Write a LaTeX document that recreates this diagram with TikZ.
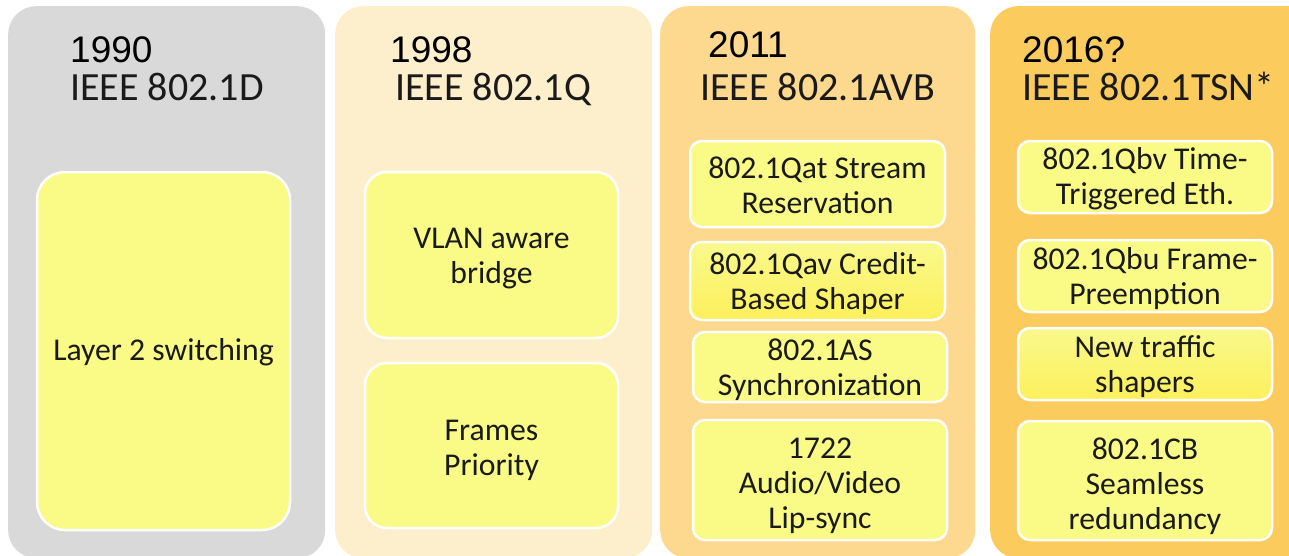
\documentclass[tikz,border=0pt]{standalone}
\usepackage{fontspec}
\setmainfont{Carlito}
\newfontfamily\yearfont{Liberation Sans}
\definecolor{pgray}{HTML}{D9D9D9}
\definecolor{pcream}{HTML}{FEEFCC}
\definecolor{plight}{HTML}{FCD98E}
\definecolor{porange}{HTML}{FBCB5D}
\definecolor{itemyellow}{HTML}{FAFA87}
\definecolor{itemtop}{HTML}{F9F98C}
\definecolor{itembot}{HTML}{FDF05C}
\definecolor{txt}{HTML}{1A1A1A}
\begin{document}
\begin{tikzpicture}[x=1pt,y=-1pt,
  panel/.style={rectangle, rounded corners=28pt, inner sep=0pt, anchor=north west},
  item/.style={rectangle, draw=white, line width=2.5pt, fill=itemyellow, inner sep=0pt, rounded corners=12pt},
  bigitem/.style={item, rounded corners=28pt},
  shadeditem/.style={item, top color=itemtop, bottom color=itembot},
  itemtext/.style={inner sep=0pt, align=center, text=txt, font=\fontsize{31.7}{35}\selectfont},
  year/.style={anchor=base west, inner sep=0pt, font=\yearfont\fontsize{37}{37}\selectfont, text=black},
  title/.style={anchor=base west, inner sep=0pt, font=\fontsize{40}{40}\selectfont, text=txt}]
\useasboundingbox (0,0) rectangle (1289,555);
\clip (0,0) rectangle (1289,555);
\fill[white] (0,0) rectangle (1289,555);
% panels
\node[panel, fill=pgray, minimum width=317pt, minimum height=552pt] (p1) at (8,6) {};
\node[panel, fill=pcream, minimum width=317pt, minimum height=552pt] (p2) at (335,6) {};
\node[panel, fill=plight, minimum width=315pt, minimum height=552pt] (p3) at (660,6) {};
\node[panel, fill=porange, minimum width=330pt, minimum height=552pt] (p4) at (990,6) {};
% titles
\node[year] (y1) at (70,62) {1990};
\node[title] (t1) at (70,100) {IEEE 802.1D};
\node[year] (y2) at (390,62) {1998};
\node[title] (t2) at (395,100) {IEEE 802.1Q};
\node[year] (y3) at (708,57) {2011};
\node[title] (t3) at (700,100) {IEEE 802.1AVB};
\node[year] (y4) at (1022,62) {2016?};
\node[title] (t4) at (1022,100) {IEEE 802.1TSN*};
% panel 1
\node[bigitem, minimum width=253pt, minimum height=358pt] (a1) at (163.5,351) {};
\node[itemtext] (a1t) at ([yshift=-1.5pt]a1.center) {Layer 2 switching};
% panel 2
\node[bigitem, rounded corners=22pt, minimum width=253pt, minimum height=166pt] (b1) at (491.5,255) {};
\node[itemtext] (b1t) at ([yshift=-3.5pt]b1.center) {VLAN aware\\bridge};
\node[bigitem, rounded corners=22pt, minimum width=253pt, minimum height=165pt] (b2) at (491.5,445.5) {};
\node[itemtext] (b2t) at ([yshift=-4.5pt]b2.center) {Frames\\Priority};
% panel 3
\node[item, minimum width=255pt, minimum height=86pt] (c1) at (817.5,184) {};
\node[itemtext] (c1t) at ([yshift=-1pt]c1.center) {802.1Qat Stream\\Reservation};
\node[shadeditem, minimum width=255pt, minimum height=78pt] (c2) at (817.5,281) {};
\node[itemtext] (c2t) at ([yshift=-3pt]c2.center) {802.1Qav Credit-\\Based Shaper};
\node[item, minimum width=254pt, minimum height=70pt] (c3) at (820,367) {};
\node[itemtext] (c3t) at ([yshift=-3pt]c3.center) {802.1AS\\Synchronization};
\node[item, minimum width=254pt, minimum height=120pt] (c4) at (820,480) {};
\node[itemtext] (c4t) at ([yshift=-5.5pt]c4.center) {1722\\Audio/Video\\Lip-sync};
% panel 4
\node[item, minimum width=254pt, minimum height=72pt] (d1) at (1145,177) {};
\node[itemtext] (d1t) at ([yshift=-1.5pt]d1.center) {802.1Qbv Time-\\Triggered Eth.};
\node[item, minimum width=254pt, minimum height=72pt] (d2) at (1145,276) {};
\node[itemtext] (d2t) at ([yshift=-3pt]d2.center) {802.1Qbu Frame-\\Preemption};
\node[shadeditem, minimum width=254pt, minimum height=72pt] (d3) at (1145,364) {};
\node[itemtext] (d3t) at ([yshift=-3pt]d3.center) {New traffic\\shapers};
\node[item, minimum width=254pt, minimum height=119pt] (d4) at (1145,480.5) {};
\node[itemtext] (d4t) at ([yshift=-5.5pt]d4.center) {802.1CB\\Seamless\\redundancy};
\end{tikzpicture}
\end{document}
